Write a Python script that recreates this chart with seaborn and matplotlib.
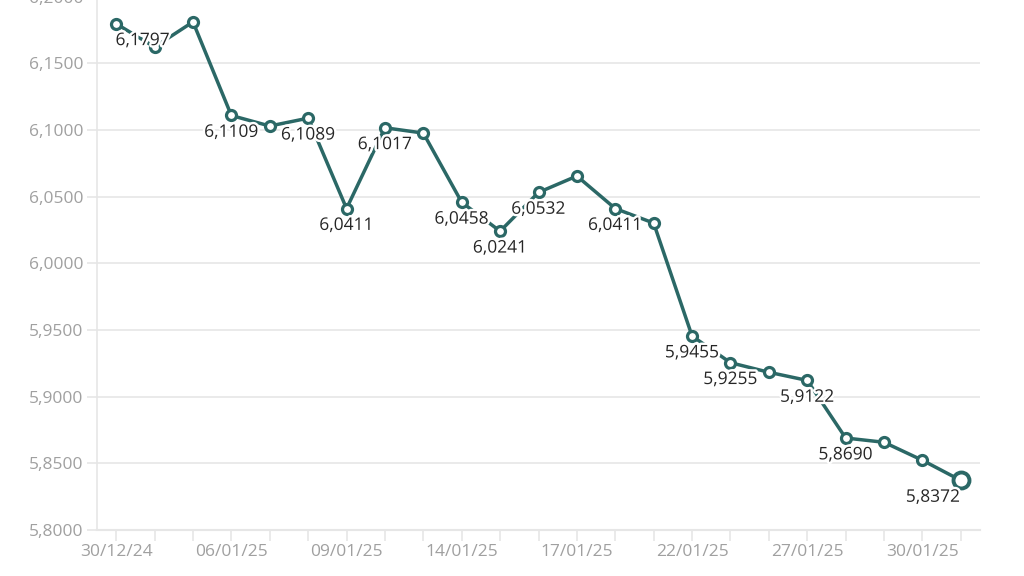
import matplotlib
matplotlib.use("Agg")
import matplotlib.pyplot as plt
import matplotlib.patheffects as pe
import seaborn as sns
import pandas as pd

dates = ["30/12/24", "02/01/25", "03/01/25", "06/01/25", "07/01/25", "08/01/25",
         "09/01/25", "10/01/25", "13/01/25", "14/01/25", "15/01/25", "16/01/25",
         "17/01/25", "20/01/25", "21/01/25", "22/01/25", "23/01/25", "24/01/25",
         "27/01/25", "28/01/25", "29/01/25", "30/01/25", "31/01/25"]
values = [6.1797, 6.1623, 6.1811, 6.1109, 6.1030, 6.1089, 6.0411, 6.1017, 6.0977,
          6.0458, 6.0241, 6.0532, 6.0655, 6.0411, 6.0302, 5.9455, 5.9255, 5.9183,
          5.9122, 5.8690, 5.8658, 5.8523, 5.8372]
labeled = [0, 3, 5, 6, 7, 9, 10, 11, 13, 15, 16, 18, 19, 22]
y_ticks = [5.80, 5.85, 5.90, 5.95, 6.00, 6.05, 6.10, 6.15, 6.20]

LINE = "#2b6866"
GRID = "#e6e6e6"
TICK = "#a0a0a0"

sns.set_theme(style="white")
plt.rcParams["font.family"] = ["Open Sans", "DejaVu Sans"]

df = pd.DataFrame({"i": range(len(values)), "v": values})

fig = plt.figure(figsize=(10.24, 5.76), dpi=100)
ax = fig.add_axes([97/1024, 1 - 530/576, (980-97)/1024, (530+3.3)/576])

sns.lineplot(data=df, x="i", y="v", ax=ax, color=LINE, linewidth=2.5,
             marker="o", markersize=7.2, markerfacecolor="white",
             markeredgecolor=LINE, markeredgewidth=2.3, zorder=3)
# bigger last marker
ax.plot([df["i"].iloc[-1]], [df["v"].iloc[-1]], marker="o", markersize=11.5,
        markerfacecolor="white", markeredgecolor=LINE, markeredgewidth=2.8,
        linestyle="none", zorder=4)

def fmt(v):
    return f"{v:.4f}".replace(".", ",")

for i in labeled:
    dx = 0
    if i == 0:
        dx = 19
    elif i == len(values) - 1:
        dx = -20
    ax.annotate(fmt(values[i]), (i, values[i]), xytext=(dx, -12.5),
                textcoords="offset points", ha="center", va="center",
                fontsize=12.5, color="#262626", zorder=5,
                path_effects=[pe.withStroke(linewidth=3.5, foreground="white")])

ax.set_xlim(-0.5, len(values) - 0.5)
ax.set_ylim(5.80, 6.20)
ax.set_yticks(y_ticks)
ax.set_yticklabels([f"{t:.4f}".replace(".", ",") for t in y_ticks])
ax.set_xticks(range(len(values)))
ax.set_xticklabels([d if k % 3 == 0 else "" for k, d in enumerate(dates)])
ax.set_xlabel("")
ax.set_ylabel("")

ax.grid(axis="y", color=GRID, linewidth=1.2)
ax.grid(axis="x", visible=False)
ax.set_axisbelow(True)
for s in ["top", "right"]:
    ax.spines[s].set_visible(False)
ax.spines["left"].set_color(GRID)
ax.spines["left"].set_linewidth(1.2)
ax.spines["bottom"].set_color(GRID)
ax.spines["bottom"].set_linewidth(1.5)
ax.tick_params(axis="y", length=7, color=GRID, width=1.2, labelsize=12.5,
               labelcolor=TICK, pad=3, left=True)
ax.tick_params(axis="x", length=8, color=GRID, width=1.2, labelsize=12.5,
               labelcolor=TICK, pad=2, bottom=True)

fig.savefig("out.png", dpi=100)
